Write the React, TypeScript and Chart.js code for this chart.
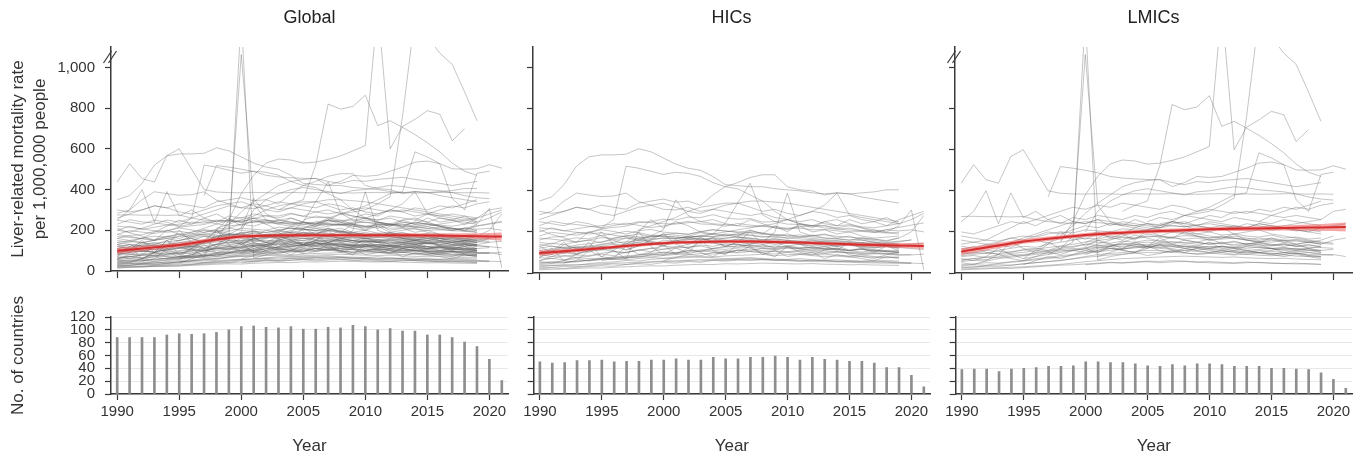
import React, { useEffect, useRef } from 'react';
import { Chart, registerables } from 'chart.js';

Chart.register(...registerables);

// ---------- data ----------
const years = [1990, 1991, 1992, 1993, 1994, 1995, 1996, 1997, 1998, 1999, 2000, 2001, 2002, 2003, 2004, 2005, 2006, 2007, 2008, 2009, 2010, 2011, 2012, 2013, 2014, 2015, 2016, 2017, 2018, 2019, 2020, 2021];
const yearTicks = [1990, 1995, 2000, 2005, 2010, 2015, 2020];
const rateTicks = [0, 200, 400, 600, 800, 1000];
const countTicks = [0, 20, 40, 60, 80, 100, 120];
const panelTitles = ['Global', 'HICs', 'LMICs'];
const rateAxisTitle = ['Liver-related mortality rate', 'per 1,000,000 people'];
const countAxisTitle = 'No. of countries';
const xAxisTitle = 'Year';

const countsGlobal = [88, 88, 88, 88, 92, 94, 93, 94, 96, 100, 105, 106, 104, 103, 105, 101, 101, 104, 103, 107, 105, 100, 102, 98, 98, 92, 92, 88, 81, 74, 54, 21];
const countsHIC = [50, 48, 49, 52, 52, 53, 50, 51, 51, 53, 53, 55, 53, 53, 57, 55, 55, 57, 57, 59, 57, 53, 57, 54, 53, 51, 51, 48, 41, 41, 29, 11];
const countsLMIC = [38, 39, 39, 35, 39, 40, 41, 43, 43, 44, 50, 50, 49, 49, 47, 44, 43, 46, 44, 47, 47, 46, 43, 43, 43, 40, 40, 39, 38, 33, 23, 9];

const trendGlobal = [99, 104, 110, 116, 122, 128, 136, 146, 155, 163, 169, 172, 173, 174, 175, 175, 175, 175, 175, 175, 175, 175, 175, 175, 175, 174, 174, 173, 172, 171, 170, 169];
const lowGlobal = [84, 90, 97, 104, 111, 117, 125, 135, 145, 153, 159, 163, 164, 165, 166, 166, 166, 166, 166, 166, 166, 166, 166, 165, 165, 164, 163, 161, 159, 157, 154, 149];
const highGlobal = [114, 118, 123, 128, 133, 139, 147, 157, 165, 173, 179, 181, 182, 183, 184, 184, 184, 184, 184, 184, 184, 184, 184, 185, 185, 184, 185, 185, 185, 185, 186, 189];

const trendHIC = [97, 101, 106, 111, 116, 121, 126, 131, 136, 141, 145, 148, 150, 151, 152, 153, 153, 153, 152, 151, 150, 148, 146, 144, 142, 140, 138, 136, 135, 134, 133, 132];
const lowHIC = [84, 89, 95, 101, 107, 113, 118, 123, 128, 133, 137, 140, 142, 143, 144, 145, 145, 145, 144, 143, 142, 140, 138, 136, 134, 131, 129, 126, 124, 122, 120, 117];
const highHIC = [110, 113, 117, 121, 125, 129, 134, 139, 144, 149, 153, 156, 158, 159, 160, 161, 161, 161, 160, 159, 158, 156, 154, 152, 150, 149, 147, 146, 146, 146, 146, 147];

const trendLMIC = [104, 114, 124, 134, 144, 153, 160, 167, 173, 179, 185, 189, 193, 196, 199, 202, 204, 206, 208, 211, 213, 214, 215, 216, 217, 218, 219, 220, 221, 222, 223, 224];
const lowLMIC = [88, 99, 110, 121, 132, 142, 149, 156, 163, 169, 175, 179, 183, 186, 189, 192, 194, 196, 198, 201, 203, 204, 205, 205, 206, 206, 207, 206, 206, 205, 204, 202];
const highLMIC = [120, 129, 138, 147, 156, 164, 171, 178, 183, 189, 195, 199, 203, 206, 209, 212, 214, 216, 218, 221, 223, 224, 225, 227, 228, 230, 231, 234, 236, 239, 242, 246];

type Series = (number | null)[];
const _ = null;

// country-level rates, high-income countries (1990..2021)
const hicSeries: Series[] = [
  [350, 370, 430, 520, 565, 575, 575, 578, 605, 590, 560, 530, 510, 500, 470, 430, 425, 420, 420, 410, 405, 400, 390, 385, 390, 385, 390, 395, 405, 405, _, _],
  [283, 300, 350, 389, 380, 372, 375, 389, 348, 330, 310, 307, 320, 300, 310, 330, 340, 320, 300, 310, 290, 280, 300, 290, 270, 280, 260, 250, 270, 240, _, _],
  [250, 240, 230, 250, 240, 220, 260, 520, 510, 495, 480, 490, 485, 470, 440, 420, 410, 380, 350, 300, 260, 240, 230, 230, 220, 230, 220, 200, 210, 205, 210, 200],
  [300, 290, 300, 320, 310, 330, 320, 310, 340, 350, 360, 345, 350, 330, 380, 420, 440, 465, 478, 478, 420, 405, 400, 380, 390, 385, 370, 360, 350, 340, _, _],
  [_, _, _, _, _, _, _, _, 210, 230, 250, 270, 300, 320, 330, 340, 340, 350, 350, 345, 340, 330, 320, 310, 300, 290, 280, 270, 260, 250, _, _],
  [230, 252, 241, 236, 228, 219, 231, 243, 232, 221, 229, 242, 251, 239, 236, 228, 241, 233, 229, 226, 218, 224, 231, 219, 214, 209, 206, 198, 211, 222, 233, 244],
  [180, 198, 191, 184, 196, 211, 202, 189, 206, 212, 199, 194, 189, 202, 211, 204, 199, 196, 188, 186, 181, 174, 182, 186, 179, 174, 171, 164, 158, 171, _, _],
  [150, 141, 162, 171, 166, 182, 191, 203, 196, 184, 179, 176, 171, 182, 191, 186, 174, 169, 161, 166, 159, 156, 149, 154, 151, 146, 149, 139, 146, 151, 162, _],
  [120, 131, 124, 136, 142, 151, 162, 171, 164, 176, 181, 174, 169, 166, 161, 171, 176, 164, 154, 161, 149, 146, 156, 151, 139, 136, 141, 146, 134, 129, 141, 146],
  [100, 112, 94, 121, 131, 114, 126, 142, 161, 154, 146, 151, 162, 171, 154, 149, 166, 159, 151, 139, 146, 152, 141, 129, 136, 141, 129, 124, 131, 119, _, _],
  [80, 91, 102, 94, 106, 111, 122, 114, 131, 142, 134, 146, 151, 144, 156, 161, 149, 146, 139, 151, 144, 141, 134, 141, 129, 136, 124, 121, 131, 124, 119, 114],
  [60, 71, 64, 76, 81, 92, 84, 101, 112, 104, 116, 121, 126, 131, 119, 126, 131, 136, 124, 119, 131, 124, 121, 114, 121, 109, 116, 111, 104, 111, _, _],
  [40, 46, 51, 54, 61, 66, 71, 74, 81, 86, 91, 94, 101, 106, 111, 104, 111, 116, 109, 104, 101, 106, 99, 94, 101, 96, 89, 94, 91, 86, 89, _],
  [30, 36, 41, 38, 46, 51, 54, 61, 58, 66, 71, 72, 76, 81, 78, 83, 86, 88, 91, 84, 89, 91, 84, 81, 82, 77, 81, 76, 74, 78, _, _],
  [20, 25, 22, 28, 31, 35, 33, 41, 45, 42, 51, 48, 56, 52, 61, 58, 63, 60, 66, 62, 61, 58, 63, 60, 55, 59, 56, 54, 56, 52, 50, _],
  [210, 188, 171, 149, 201, 181, 159, 141, 171, 149, 131, 161, 139, 171, 151, 129, 151, 141, 161, 149, 131, 141, 129, 121, 131, 111, 121, 114, 109, 104, _, _],
  [130, 101, 151, 89, 121, 201, 139, 111, 131, 161, 191, 141, 119, 151, 171, 129, 149, 201, 139, 121, 161, 139, 119, 131, 109, 151, 119, 101, 131, 109, _, _],
  [70, 121, 59, 91, 151, 79, 111, 69, 201, 129, 91, 121, 99, 161, 109, 89, 139, 121, 99, 79, 131, 101, 89, 111, 121, 89, 79, 71, 89, 101, _, _],
  [_, _, 50, 60, 110, 80, 70, 130, 90, 100, 140, 90, 120, 100, 80, 110, 100, 130, 90, 110, 80, 90, 100, 70, 90, 80, 70, 60, 80, 70, _, _],
  [160, 175, 178, 195, 198, 215, 222, 228, 245, 250, 262, 258, 272, 270, 284, 268, 262, 265, 248, 250, 238, 236, 228, 230, 214, 218, 206, 208, 196, 198, _, _],
  [90, 100, 110, 130, 120, 140, 150, 170, 160, 180, 210, 356, 280, 250, 260, 240, 230, 260, 240, 220, 210, 230, 200, 210, 190, 200, 180, 170, 175, 180, _, _],
  [110, 90, 140, 120, 100, 130, 110, 150, 200, 260, 220, 250, 230, 200, 190, 242, 340, 437, 283, 250, 260, 240, 230, 250, 260, 240, 220, 210, 200, 230, 307, 15],
  [_, _, _, _, _, 60, 70, 80, 75, 90, 100, 95, 110, 105, 120, 130, 125, 140, 150, 200, 389, 200, 180, 190, 170, 180, 160, 150, 140, 130, _, _],
  [50, 55, 48, 60, 62, 70, 65, 72, 80, 78, 85, 90, 88, 95, 92, 100, 98, 105, 102, 108, 104, 110, 106, 100, 104, 98, 96, 100, 94, 90, 88, 92],
  [15, 18, 20, 22, 25, 24, 28, 30, 33, 35, 34, 38, 40, 42, 41, 45, 44, 46, 48, 47, 45, 44, 46, 43, 42, 40, 41, 39, 38, 37, _, _],
  [200, 220, 205, 215, 225, 230, 240, 235, 250, 245, 240, 238, 245, 250, 240, 235, 230, 225, 228, 220, 215, 218, 210, 212, 205, 200, 202, 198, 195, 190, _, _],
  [90, 80, 85, 75, 70, 72, 68, 65, 70, 75, 72, 78, 80, 76, 74, 70, 72, 75, 70, 68, 66, 70, 65, 62, 64, 60, 58, 62, 60, 58, _, _],
  [140, 130, 120, 125, 110, 115, 105, 100, 110, 120, 130, 125, 140, 150, 145, 135, 140, 130, 135, 125, 130, 120, 125, 115, 120, 110, 115, 105, 110, 100, _, _],
  [260, 280, 300, 320, 310, 290, 280, 300, 320, 330, 340, 320, 300, 290, 310, 300, 290, 280, 290, 270, 260, 250, 260, 240, 230, 235, 225, 220, 230, 260, 280, 300],
  [60, 80, 100, 90, 110, 130, 120, 140, 150, 135, 160, 155, 170, 180, 175, 190, 185, 200, 195, 180, 190, 175, 185, 170, 165, 160, 170, 165, 155, 170, 200, 280],
  [100, 110, 120, 115, 125, 130, 140, 135, 150, 160, 170, 165, 180, 175, 190, 200, 210, 220, 230, 240, 260, 280, 300, 330, 389, 283, 270, 260, 250, 240, _, _],
  [35, 38, 36, 40, 42, 45, 48, 50, 52, 55, 58, 60, 62, 65, 64, 66, 68, 66, 64, 62, 60, 58, 56, 55, 54, 52, 50, 49, 48, 47, 46, _],
  [110, 118, 126, 124, 132, 138, 145, 152, 158, 165, 170, 168, 176, 180, 178, 182, 185, 182, 178, 174, 170, 166, 162, 158, 155, 150, 148, 146, 142, 140, _, _],
  [45, 52, 58, 55, 63, 70, 75, 83, 88, 95, 102, 99, 108, 112, 118, 115, 121, 125, 119, 114, 120, 116, 111, 108, 104, 100, 97, 94, 96, 92, _, _],
  [170, 165, 158, 150, 160, 172, 168, 180, 190, 176, 185, 194, 188, 200, 210, 205, 198, 206, 194, 188, 180, 186, 176, 170, 168, 160, 166, 158, 150, 155, 160, _],
  [75, 70, 82, 88, 84, 96, 104, 98, 112, 120, 115, 128, 124, 136, 130, 142, 138, 134, 128, 132, 124, 120, 126, 118, 114, 110, 116, 108, 104, 100, _, _],
  [25, 28, 32, 30, 36, 40, 44, 42, 48, 52, 56, 54, 60, 58, 64, 62, 66, 70, 68, 64, 66, 62, 60, 62, 58, 56, 54, 55, 52, 50, 48, 46],
  [130, 145, 138, 152, 160, 148, 170, 182, 176, 168, 190, 184, 178, 196, 188, 180, 192, 186, 174, 180, 170, 176, 168, 162, 158, 152, 160, 150, 146, 140, _, _],
  [_, _, _, _, _, _, _, _, _, _, 60, 75, 90, 84, 100, 96, 112, 108, 120, 116, 124, 118, 112, 120, 114, 108, 102, 110, 104, 98, _, _],
  [220, 215, 206, 198, 190, 196, 184, 176, 170, 182, 176, 168, 174, 162, 170, 158, 164, 156, 150, 146, 152, 140, 144, 136, 132, 138, 130, 126, 128, 122, _, _],
  [55, 48, 62, 70, 58, 66, 80, 74, 88, 92, 86, 100, 94, 108, 102, 96, 110, 104, 98, 92, 100, 94, 88, 92, 86, 82, 88, 80, 78, 76, _, _],
  [95, 102, 110, 104, 118, 126, 120, 134, 142, 150, 146, 158, 164, 160, 172, 168, 176, 170, 162, 166, 158, 154, 160, 150, 148, 142, 146, 138, 134, 130, _, _],
  [_, _, _, _, _, _, _, _, _, _, _, _, _, _, _, _, 180, 210, 190, 230, 200, 240, 220, 250, 230, 260, 240, 250, 230, 240, 260, 290],
];

// country-level rates, low- and middle-income countries (1990..2021)
const lmicSeries: Series[] = [
  [437, 527, 454, 437, 567, 600, 500, 400, 388, 385, 384, 386, 385, 383, 386, 384, 385, 386, 384, 383, 385, 386, 384, 385, 383, 384, 386, 385, 384, 385, 383, _],
  [_, _, _, _, _, _, _, _, 160, 200, 1063, 330, 250, 230, 260, 240, 220, 250, 230, 210, 200, 220, 190, 200, 210, 190, 180, 170, 160, 150, _, _],
  [_, _, _, _, _, _, _, 90, 120, 150, 1250, 63, 80, 90, 100, 85, 95, 110, 100, 90, 95, 100, 110, 105, 95, 90, 100, 95, 85, 80, _, _],
  [_, _, _, _, _, _, _, _, 150, 250, 380, 470, 530, 550, 545, 530, 535, 548, 565, 590, 616, 1300, 600, 710, 745, 787, 770, 640, 698, _, _, _],
  [_, _, _, _, _, _, _, _, _, _, _, _, _, 300, 330, 350, 520, 820, 795, 808, 863, 714, 738, 705, 670, 630, 585, 530, 490, 470, _, _],
  [_, _, _, _, _, _, _, _, _, _, _, _, _, _, _, 250, 270, 260, 280, 290, 300, 330, 365, 760, 1250, 1150, 1070, 1015, 880, 738, _, _],
  [_, _, _, _, _, _, _, 370, 518, 510, 500, 488, 470, 462, 458, 455, 454, 421, 440, 470, 465, 470, 490, 510, 535, 540, 527, 502, 500, 502, 522, 505],
  [_, _, _, _, _, _, _, _, _, _, _, _, _, _, _, _, 240, 250, 280, 300, 320, 350, 380, 390, 585, 560, 527, 356, 300, 480, 490, _],
  [_, _, _, _, _, _, _, _, 180, 230, 290, 340, 380, 420, 440, 450, 455, 440, 430, 445, 440, 450, 455, 460, 450, 440, 430, 420, 430, 440, _, _],
  [_, _, _, _, _, _, _, _, _, _, 200, 300, 350, 380, 400, 410, 400, 390, 380, 395, 400, 410, 420, 415, 405, 400, 395, 385, 370, 360, 355, _],
  [250, 300, 400, 240, 390, 270, 300, 260, 280, 250, 240, 260, 230, 250, 240, 230, 220, 240, 250, 230, 220, 210, 230, 220, 240, 230, 220, 210, 200, 220, 230, 240],
  [275, 276, 274, 275, 273, 275, 260, 250, 245, 240, 250, 245, 240, 235, 230, 240, 235, 230, 225, 230, 220, 230, 225, 215, 220, 210, 215, 205, 210, 200, _, _],
  [180, 170, 160, 190, 220, 250, 230, 260, 240, 270, 260, 280, 270, 260, 280, 270, 290, 300, 280, 270, 260, 250, 270, 260, 250, 240, 260, 250, 240, 230, _, _],
  [130, 120, 140, 150, 170, 160, 180, 200, 190, 210, 230, 220, 240, 230, 220, 240, 230, 250, 240, 230, 250, 240, 230, 220, 240, 230, 220, 210, 200, 190, _, _],
  [90, 100, 95, 110, 120, 130, 125, 140, 150, 160, 170, 165, 180, 175, 170, 180, 175, 170, 165, 170, 160, 165, 170, 160, 155, 150, 160, 155, 150, 145, 140, _],
  [60, 70, 65, 80, 90, 85, 100, 110, 120, 130, 140, 150, 145, 155, 150, 160, 155, 150, 145, 150, 140, 145, 150, 140, 145, 135, 140, 130, 135, 130, _, _],
  [40, 45, 50, 48, 55, 60, 70, 75, 85, 90, 100, 110, 120, 115, 125, 130, 125, 120, 130, 125, 120, 115, 120, 110, 115, 120, 110, 105, 110, 100, _, _],
  [30, 28, 35, 40, 38, 45, 50, 55, 60, 70, 80, 90, 95, 100, 105, 110, 108, 104, 110, 105, 100, 106, 102, 98, 100, 96, 92, 95, 90, 88, 86, _],
  [20, 22, 25, 24, 28, 30, 34, 38, 42, 48, 55, 60, 65, 70, 72, 75, 78, 80, 82, 80, 78, 76, 78, 74, 72, 70, 72, 68, 66, 64, _, _],
  [70, 60, 80, 120, 90, 70, 110, 150, 120, 180, 130, 160, 140, 120, 150, 130, 170, 140, 120, 130, 150, 120, 110, 130, 140, 120, 100, 110, 120, 100, _, _],
  [110, 130, 100, 90, 150, 120, 100, 140, 200, 160, 180, 200, 170, 190, 160, 210, 180, 170, 200, 180, 160, 170, 190, 160, 150, 170, 160, 140, 150, 160, 180, _],
  [50, 40, 60, 90, 70, 60, 80, 100, 90, 110, 120, 100, 130, 110, 100, 120, 140, 110, 100, 120, 110, 100, 90, 110, 100, 95, 90, 100, 85, 80, _, _],
  [_, _, _, _, _, _, _, _, _, _, 120, 140, 160, 180, 200, 210, 220, 230, 225, 235, 240, 230, 220, 240, 230, 220, 230, 240, 250, 260, 300, 310],
  [160, 150, 140, 130, 150, 170, 190, 210, 230, 250, 240, 260, 250, 240, 230, 220, 210, 200, 210, 190, 180, 170, 180, 170, 160, 170, 150, 160, 150, 140, _, _],
  [_, _, _, _, _, 70, 80, 90, 100, 110, 100, 120, 130, 140, 130, 120, 140, 130, 120, 110, 120, 130, 120, 110, 100, 110, 120, 110, 100, 90, 90, 80],
  [_, _, _, _, _, _, _, _, _, _, 40, 45, 50, 48, 52, 55, 50, 54, 56, 52, 50, 48, 46, 50, 52, 48, 46, 44, 45, 42, _, _],
  [100, 95, 110, 105, 100, 115, 120, 110, 130, 125, 140, 135, 130, 145, 140, 130, 135, 140, 130, 125, 120, 130, 125, 135, 130, 120, 125, 115, 120, 110, 115, _],
  [200, 190, 210, 230, 250, 240, 260, 280, 300, 320, 310, 330, 320, 340, 330, 320, 310, 330, 320, 300, 310, 300, 290, 300, 290, 280, 270, 280, 270, 260, _, _],
  [_, _, _, _, _, _, _, _, _, _, 90, 110, 130, 150, 170, 190, 180, 200, 190, 180, 170, 180, 170, 160, 150, 160, 150, 140, 150, 140, 160, 170],
  [80, 85, 75, 90, 95, 100, 110, 105, 115, 120, 110, 125, 120, 115, 130, 125, 120, 115, 110, 120, 115, 110, 105, 100, 110, 105, 100, 95, 100, 95, _, _],
  [35, 40, 38, 46, 52, 58, 64, 70, 78, 86, 95, 104, 110, 118, 122, 128, 126, 132, 128, 124, 130, 126, 122, 128, 124, 118, 122, 116, 112, 110, _, _],
  [55, 62, 58, 70, 76, 84, 90, 98, 106, 114, 124, 132, 140, 136, 146, 150, 144, 152, 148, 140, 146, 142, 138, 144, 136, 132, 138, 130, 126, 124, 120, _],
  [25, 30, 34, 32, 38, 44, 50, 56, 62, 68, 76, 82, 88, 92, 96, 100, 98, 102, 96, 94, 98, 92, 88, 92, 86, 84, 88, 82, 80, 78, _, _],
  [140, 150, 160, 155, 170, 180, 175, 190, 200, 195, 210, 205, 200, 215, 210, 205, 200, 210, 195, 190, 200, 185, 190, 180, 175, 185, 170, 175, 165, 170, _, _],
  [_, _, _, _, _, _, _, _, _, _, _, 80, 100, 120, 140, 130, 150, 140, 160, 150, 140, 150, 130, 140, 150, 140, 130, 140, 120, 130, _, _],
  [65, 70, 78, 74, 82, 90, 96, 104, 112, 108, 118, 126, 132, 128, 136, 140, 134, 130, 138, 132, 126, 130, 124, 120, 126, 118, 114, 120, 112, 108, _, _],
  [15, 18, 20, 24, 22, 26, 30, 34, 38, 40, 44, 48, 52, 50, 54, 58, 56, 60, 58, 54, 56, 52, 50, 54, 50, 48, 46, 48, 44, 42, _, _],
  [120, 110, 130, 140, 125, 150, 160, 145, 170, 180, 165, 190, 175, 160, 185, 170, 155, 175, 160, 150, 165, 145, 155, 140, 150, 135, 145, 130, 140, 125, _, _],
  [_, _, _, _, _, _, _, _, _, _, 150, 170, 200, 190, 220, 210, 230, 250, 240, 260, 280, 270, 300, 290, 310, 300, 320, 310, 330, 350, _, _],
  [85, 90, 98, 94, 104, 110, 116, 124, 132, 140, 150, 158, 166, 172, 168, 176, 180, 174, 182, 178, 170, 176, 168, 164, 170, 162, 158, 164, 156, 150, 146, _],
  [_, _, _, _, _, 40, 60, 80, 70, 90, 110, 100, 120, 110, 100, 130, 110, 100, 120, 110, 100, 110, 100, 90, 100, 90, 80, 90, 80, 70, _, _],
  [_, _, _, _, _, _, _, _, _, _, _, _, _, _, _, _, _, _, _, _, _, _, _, _, 250, 280, 300, 320, 310, 330, 340, _],
];

// ---------- styling ----------
const FONT = "'Liberation Sans', Arial, sans-serif";
const AXIS = '#3a3a3a';
const TEXT = '#333333';
const GREY_LINE = 'rgba(95,95,95,0.36)';
const RED_LINE = 'rgb(214,46,46)';
const RED_BAND = 'rgba(236,96,96,0.55)';
const BAR = '#8e8e8e';

const panelLeft = [0, 520, 942];
const panelWidth = [520, 422, 422];
const axisBoxWidth = [111, 13, 13];

const breakMarkPlugin = {
  id: 'breakMark',
  afterDraw(chart: any, _args: any, opts: any) {
    if (!opts || !opts.show) return;
    const { ctx, chartArea } = chart;
    const x = chartArea.left;
    const y = 57;
    ctx.save();
    ctx.strokeStyle = AXIS;
    ctx.lineWidth = 1.2;
    for (const d of [-2.5, 2.5]) {
      ctx.beginPath();
      ctx.moveTo(x - 5 + d, y + 6);
      ctx.lineTo(x + 3 + d, y - 6);
      ctx.stroke();
    }
    ctx.restore();
  },
};

function pts(vals: Series) {
  return years.map((yr, k) => ({ x: yr, y: vals[k] }));
}

function xTicks(scale: any) {
  scale.ticks = yearTicks.map((v) => ({ value: v }));
}

function topConfig(i: number): any {
  const first = i === 0;
  const series = i === 0 ? [...hicSeries, ...lmicSeries] : i === 1 ? hicSeries : lmicSeries;
  const trend = [trendGlobal, trendHIC, trendLMIC][i];
  const lo = [lowGlobal, lowHIC, lowLMIC][i];
  const hi = [highGlobal, highHIC, highLMIC][i];
  const datasets: any[] = [
    { data: pts(trend), borderColor: RED_LINE, borderWidth: 2, pointRadius: 0, fill: false },
    { data: pts(hi), borderWidth: 0, borderColor: 'rgba(0,0,0,0)', pointRadius: 0, fill: '+1', backgroundColor: RED_BAND },
    { data: pts(lo), borderWidth: 0, borderColor: 'rgba(0,0,0,0)', pointRadius: 0, fill: false },
    ...series.map((s) => ({ data: pts(s), borderColor: GREY_LINE, borderWidth: 1, pointRadius: 0, fill: false, spanGaps: true })),
  ];
  return {
    type: 'line',
    data: { datasets },
    options: {
      animation: false,
      responsive: false,
      events: [],
      layout: { padding: { left: 0, right: 12, top: 0, bottom: 0 } },
      plugins: {
        legend: { display: false },
        tooltip: { enabled: false },
        title: {
          display: true,
          text: panelTitles[i],
          fullSize: false,
          color: '#222',
          font: { family: FONT, size: 18, weight: 'normal', lineHeight: 1.2 },
          padding: { top: 7, bottom: 18.4 },
        },
        breakMark: { show: i !== 1 },
      },
      scales: {
        x: {
          type: 'linear',
          min: 1989.5,
          max: 2021.5,
          afterBuildTicks: xTicks,
          ticks: { display: false },
          grid: { drawOnChartArea: false, drawTicks: true, tickLength: 7, tickColor: AXIS, tickWidth: 1.2 },
          border: { display: true, color: AXIS, width: 1.5 },
          afterFit: (s: any) => { s.height = 17; },
        },
        y: {
          min: 0,
          max: 1100,
          afterBuildTicks: (s: any) => { s.ticks = rateTicks.map((v) => ({ value: v })); },
          ticks: { display: first, color: TEXT, padding: 10, font: { family: FONT, size: 15 } },
          grid: { drawOnChartArea: false, drawTicks: true, tickLength: 6, tickColor: AXIS, tickWidth: 1.2 },
          border: { display: true, color: AXIS, width: 1.5 },
          title: first
            ? { display: true, text: rateAxisTitle, color: TEXT, font: { family: FONT, size: 17, lineHeight: 1.25 }, padding: { top: 8, bottom: 0 } }
            : { display: false },
          afterFit: (s: any) => { s.width = axisBoxWidth[i]; },
        },
      },
    },
    plugins: [breakMarkPlugin],
  };
}

function bottomConfig(i: number): any {
  const first = i === 0;
  const counts = [countsGlobal, countsHIC, countsLMIC][i];
  return {
    type: 'bar',
    data: {
      datasets: [
        { data: years.map((yr, k) => ({ x: yr, y: counts[k] })), backgroundColor: BAR, barThickness: 2 },
      ],
    },
    options: {
      animation: false,
      responsive: false,
      events: [],
      layout: { padding: { left: 0, right: 12, top: 27, bottom: 0 } },
      plugins: { legend: { display: false }, tooltip: { enabled: false } },
      scales: {
        x: {
          type: 'linear',
          offset: false,
          min: 1989.5,
          max: 2021.5,
          afterBuildTicks: xTicks,
          ticks: { color: TEXT, padding: 3, font: { family: FONT, size: 15 }, callback: (v: any) => String(v) },
          grid: { offset: false, drawOnChartArea: false, drawTicks: true, tickLength: 6, tickColor: AXIS, tickWidth: 1.2 },
          border: { display: true, color: AXIS, width: 1.5 },
          title: { display: true, text: xAxisTitle, color: TEXT, font: { family: FONT, size: 17, lineHeight: 1.2 }, padding: { top: 0, bottom: 0 } },
          afterFit: (s: any) => { s.height = 63; },
        },
        y: {
          min: 0,
          max: 120,
          afterBuildTicks: (s: any) => { s.ticks = countTicks.map((v) => ({ value: v })); },
          ticks: { display: first, autoSkip: false, color: TEXT, padding: 10, font: { family: FONT, size: 15 } },
          grid: { color: '#e8e8e8', drawOnChartArea: true, drawTicks: true, tickLength: 6, tickColor: AXIS, tickWidth: 1.2 },
          border: { display: true, color: AXIS, width: 1.5 },
          title: first
            ? { display: true, text: countAxisTitle, color: TEXT, font: { family: FONT, size: 17, lineHeight: 1.25 }, padding: { top: 8, bottom: 0 } }
            : { display: false },
          afterFit: (s: any) => { s.width = axisBoxWidth[i]; },
        },
      },
    },
  };
}

export default function App() {
  const topRefs = [useRef<HTMLCanvasElement>(null), useRef<HTMLCanvasElement>(null), useRef<HTMLCanvasElement>(null)];
  const botRefs = [useRef<HTMLCanvasElement>(null), useRef<HTMLCanvasElement>(null), useRef<HTMLCanvasElement>(null)];

  useEffect(() => {
    Chart.defaults.font.family = FONT;
    Chart.defaults.color = TEXT;
    const charts: Chart[] = [];
    for (let i = 0; i < 3; i++) {
      const t = topRefs[i].current;
      const b = botRefs[i].current;
      if (t) charts.push(new Chart(t, topConfig(i)));
      if (b) charts.push(new Chart(b, bottomConfig(i)));
    }
    return () => charts.forEach((c) => c.destroy());
  }, []);

  return (
    <div style={{ position: 'fixed', left: 0, top: 0, width: 1364, height: 457, background: '#fff', overflow: 'hidden' }}>
      {[0, 1, 2].map((i) => (
        <React.Fragment key={i}>
          <canvas
            ref={topRefs[i]}
            width={panelWidth[i]}
            height={290}
            style={{ position: 'absolute', left: panelLeft[i], top: 0, width: panelWidth[i], height: 290 }}
          />
          <canvas
            ref={botRefs[i]}
            width={panelWidth[i]}
            height={167}
            style={{ position: 'absolute', left: panelLeft[i], top: 290, width: panelWidth[i], height: 167 }}
          />
        </React.Fragment>
      ))}
    </div>
  );
}
